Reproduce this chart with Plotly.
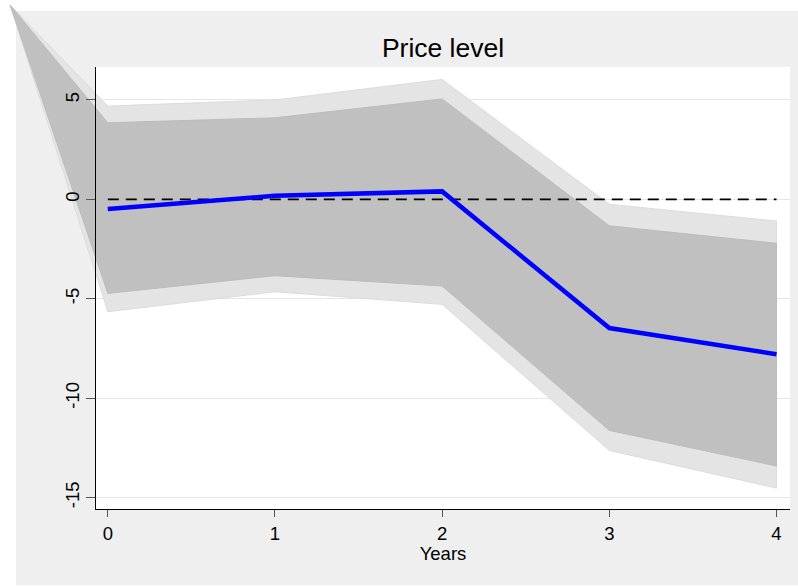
import plotly.graph_objects as go

# ---- data ----
years = [0, 1, 2, 3, 4]
irf = [-0.49, 0.18, 0.40, -6.47, -7.79]
inner_upper = [3.85, 4.10, 5.05, -1.33, -2.21]
inner_lower = [-4.73, -3.84, -4.36, -11.62, -13.41]
outer_upper = [4.69, 5.00, 6.03, -0.25, -1.09]
outer_lower = [-5.65, -4.65, -5.28, -12.63, -14.52]
# the bands' polygons close through a stray point outside the plot (as in the original)
apex_x = [-0.584]
apex_y = [9.77]
ytick_vals = [-15, -10, -5, 0, 5]
xtick_vals = [0, 1, 2, 3, 4]

# ---- layout geometry ----
W, H = 798, 586
L, R, T, B = 96, 790, 67, 509.3
xr = [-0.0705, 4.0807]
yr = [-15.587, 6.655]

# full-figure axes aligned with the main axes, so the bands can reach outside the plot area
sx = (xr[1] - xr[0]) / (R - L)
sy = (yr[1] - yr[0]) / (B - T)
x2r = [xr[0] - L * sx, xr[1] + (W - R) * sx]
y2r = [yr[0] - (H - B) * sy, yr[1] + T * sy]

FONT = "Liberation Sans, Arial, Helvetica, sans-serif"

def band(upper, lower):
    xs = apex_x + years + years[::-1] + apex_x
    ys = apex_y + upper + lower[::-1] + apex_y
    return xs, ys

fig = go.Figure()
# layer 1: grid only
fig.add_trace(go.Scatter(x=[None], y=[None], xaxis="x", yaxis="y",
                         showlegend=False, hoverinfo="skip"))
# layer 2: data on full-figure axes
bx, by = band(outer_upper, outer_lower)
fig.add_trace(go.Scatter(x=bx, y=by, xaxis="x2", yaxis="y2", mode="lines",
                         fill="toself", fillcolor="#E4E4E4",
                         line=dict(color="#DCDCDC", width=1),
                         showlegend=False, hoverinfo="skip"))
bx, by = band(inner_upper, inner_lower)
fig.add_trace(go.Scatter(x=bx, y=by, xaxis="x2", yaxis="y2", mode="lines",
                         fill="toself", fillcolor="#C0C0C0",
                         line=dict(color="#BCBCBC", width=1),
                         showlegend=False, hoverinfo="skip"))
fig.add_trace(go.Scatter(x=[years[0], years[-1]], y=[0, 0], xaxis="x2", yaxis="y2",
                         mode="lines", line=dict(color="black", width=1.8, dash="11px,7px"),
                         showlegend=False, hoverinfo="skip"))
fig.add_trace(go.Scatter(x=years, y=irf, xaxis="x2", yaxis="y2", mode="lines",
                         line=dict(color="#0000FF", width=4.5),
                         showlegend=False, hoverinfo="skip"))
# layer 3: axes, ticks, labels on top
fig.add_trace(go.Scatter(x=[None], y=[None], xaxis="x3", yaxis="y3",
                         showlegend=False, hoverinfo="skip"))

tickfont = dict(size=18.5, family=FONT, color="black")
fig.update_layout(
    width=W, height=H,
    margin=dict(l=0, r=0, t=0, b=0, pad=0),
    paper_bgcolor="white",
    plot_bgcolor="rgba(0,0,0,0)",
    font=dict(family=FONT, color="black"),
    title=dict(text="Price level", x=(L + R) / 2 / W, xanchor="center",
               y=1 - 47.7 / H, yanchor="middle",
               font=dict(size=26.5, family=FONT, color="black")),
    xaxis=dict(domain=[L / W, R / W], range=xr, anchor="y", visible=False, fixedrange=True),
    yaxis=dict(domain=[1 - B / H, 1 - T / H], range=yr, anchor="x",
               tickmode="array", tickvals=ytick_vals,
               showticklabels=False, ticks="", showline=False,
               showgrid=True, gridcolor="#E6E6E6", gridwidth=1.2, zeroline=False,
               fixedrange=True),
    xaxis2=dict(domain=[0, 1], range=x2r, anchor="y2", visible=False, fixedrange=True),
    yaxis2=dict(domain=[0, 1], range=y2r, anchor="x2", visible=False, fixedrange=True),
    xaxis3=dict(domain=[L / W, R / W], range=xr, anchor="y3",
                tickmode="array", tickvals=xtick_vals, ticktext=[str(v) for v in xtick_vals],
                ticks="outside", ticklen=7, tickwidth=1, tickcolor="#555555",
                showline=True, linecolor="black", linewidth=1,
                showgrid=False, zeroline=False, tickfont=tickfont, fixedrange=True,
                title=dict(text="Years", standoff=1,
                           font=dict(size=18.5, family=FONT, color="black"))),
    yaxis3=dict(domain=[1 - B / H, 1 - T / H], range=yr, anchor="x3",
                tickmode="array", tickvals=ytick_vals, ticktext=[str(v) for v in ytick_vals],
                ticks="outside", ticklen=9, tickwidth=1, tickcolor="#555555",
                tickangle=-90,
                showline=True, linecolor="black", linewidth=1,
                showgrid=False, zeroline=False, tickfont=tickfont, fixedrange=True),
    shapes=[
        dict(type="rect", xref="paper", yref="paper", layer="below",
             x0=16 / W, x1=1, y0=1 - 585.3 / H, y1=1 - 11 / H,
             fillcolor="#EFEFEF", line=dict(width=0)),
        dict(type="rect", xref="paper", yref="paper", layer="below",
             x0=L / W, x1=R / W, y0=1 - B / H, y1=1 - T / H,
             fillcolor="white", line=dict(width=0)),
    ],
)

fig.write_html("out.html", config={"displayModeBar": False},
               post_script="document.body.style.margin='0';")
